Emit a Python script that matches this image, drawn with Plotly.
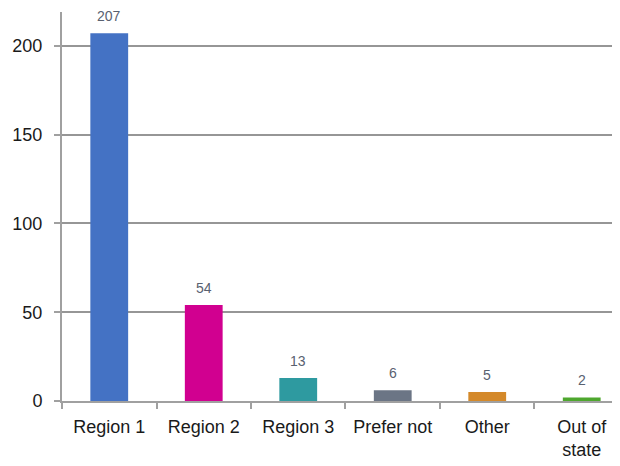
import plotly.graph_objects as go

categories = ["Region 1", "Region 2", "Region 3", "Prefer not", "Other", "Out of<br>state"]
counts = [207, 54, 13, 6, 5, 2]
bar_colors = ["#4472C4", "#D10090", "#2E9AA0", "#6B7585", "#D4892A", "#4EA72E"]
y_ticks = [0, 50, 100, 150, 200]

fig = go.Figure()
fig.add_trace(go.Bar(
    x=categories, y=counts,
    marker=dict(color=bar_colors, line=dict(width=0)),
    hoverinfo="skip",
))

for c, v in zip(categories, counts):
    fig.add_annotation(x=c, y=v, text=str(v), showarrow=False,
                       yanchor="middle", yshift=17,
                       font=dict(size=14, color="#596170", family="Liberation Sans"))

fig.update_layout(
    width=612, height=458,
    margin=dict(l=54, r=0, t=4, b=65),
    paper_bgcolor="white", plot_bgcolor="white",
    bargap=0.6, showlegend=False,
    font=dict(family="Liberation Sans", size=18, color="#1a1a1a"),
)
fig.update_xaxes(
    range=[-0.5, 5.405],
    showline=True, linecolor="#A0A0A0", linewidth=2,
    ticks="outside", tickson="boundaries", ticklen=6, tickwidth=2, tickcolor="#A0A0A0",
    showgrid=False, ticklabelstandoff=8,
    tickfont=dict(size=18, color="#1a1a1a"),
)
fig.update_yaxes(
    range=[0, 219], tickvals=y_ticks,
    showline=True, linecolor="#A0A0A0", linewidth=2,
    showgrid=True, gridcolor="#969696", gridwidth=2,
    ticks="outside", ticklen=6, tickwidth=2, tickcolor="#A0A0A0",
    zeroline=False, ticklabelstandoff=8,
    tickfont=dict(size=18, color="#1a1a1a"),
)

fig.write_html("out.html")
